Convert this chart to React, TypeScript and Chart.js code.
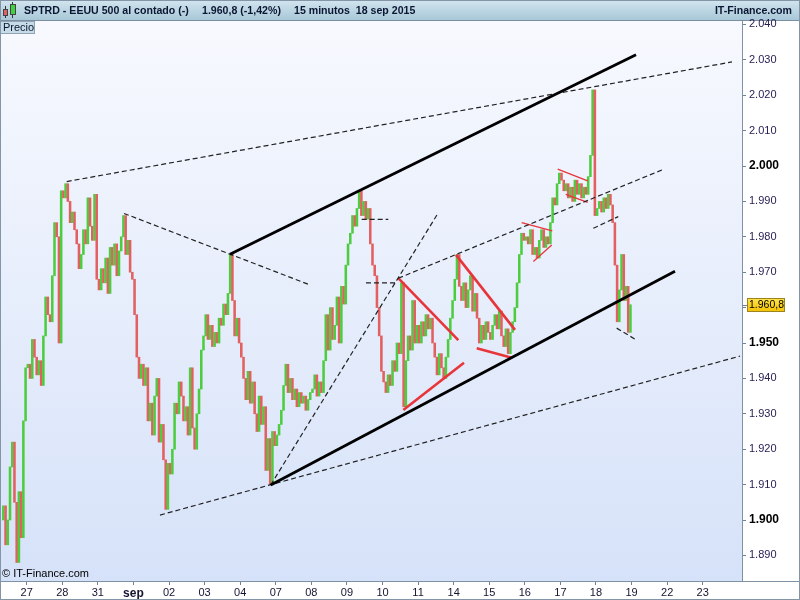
import React, { useEffect, useRef } from 'react';
import { Chart, registerables } from 'chart.js';

Chart.register(...registerables);

// ---- axis labels ----
const dayLabels = ['27', '28', '31', 'sep', '02', '03', '04', '07', '08', '09', '10', '11', '14', '15', '16', '17', '18', '19', '22', '23'];
const priceTicks = [1890, 1900, 1910, 1920, 1930, 1940, 1950, 1960, 1970, 1980, 1990, 2000, 2010, 2020, 2030, 2040];
const boldPriceTicks = [1900, 1950, 2000];

// ---- 15-minute closes, 16 bars per session (first session partial) ----
const barsPerDay = 16;
const firstOpen = 1900;
const aug26 = [1904, 1893, 1900, 1915, 1922, 1905, 1888, 1908, 1895, 1928, 1943];
const aug27 = [1944, 1940, 1951, 1946, 1941, 1945, 1938, 1952, 1963, 1958, 1956, 1969, 1984, 1980, 1950, 1993];
const aug28 = [1991, 1995, 1990, 1984, 1987, 1982, 1978, 1971, 1975, 1982, 1978, 1991, 1983, 1979, 1992, 1968];
const aug31 = [1965, 1971, 1967, 1974, 1964, 1977, 1972, 1978, 1969, 1976, 1980, 1986, 1975, 1979, 1970, 1968];
const sep01 = [1958, 1946, 1940, 1944, 1938, 1943, 1928, 1933, 1924, 1935, 1940, 1922, 1927, 1917, 1903, 1916];
const sep02 = [1913, 1920, 1933, 1930, 1939, 1935, 1928, 1932, 1924, 1943, 1926, 1920, 1930, 1937, 1948, 1952];
const sep03 = [1958, 1951, 1955, 1949, 1953, 1950, 1957, 1955, 1961, 1958, 1964, 1975, 1962, 1952, 1957, 1950];
const sep04 = [1946, 1940, 1934, 1942, 1933, 1939, 1930, 1925, 1935, 1927, 1932, 1914, 1923, 1910, 1925, 1921];
const sep07 = [1924, 1927, 1931, 1938, 1944, 1936, 1940, 1934, 1937, 1932, 1936, 1933, 1935, 1931, 1934, 1936];
const sep08 = [1937, 1941, 1935, 1939, 1936, 1945, 1958, 1948, 1960, 1951, 1955, 1963, 1950, 1966, 1961, 1972];
const sep09 = [1978, 1981, 1986, 1983, 1988, 1993, 1986, 1990, 1985, 1988, 1978, 1972, 1969, 1960, 1952, 1942];
const sep10 = [1939, 1936, 1941, 1938, 1945, 1942, 1950, 1947, 1967, 1932, 1945, 1952, 1948, 1962, 1950, 1955];
const sep11 = [1950, 1956, 1952, 1958, 1954, 1957, 1950, 1946, 1941, 1947, 1943, 1940, 1946, 1951, 1957, 1962];
const sep14 = [1968, 1975, 1966, 1962, 1967, 1960, 1965, 1969, 1959, 1964, 1957, 1950, 1955, 1951, 1956, 1953];
const sep15 = [1951, 1955, 1958, 1954, 1959, 1952, 1949, 1954, 1947, 1953, 1956, 1960, 1967, 1975, 1981, 1979];
const sep16 = [1980, 1978, 1982, 1975, 1977, 1974, 1979, 1982, 1977, 1980, 1978, 1984, 1991, 1989, 1995, 1998];
const sep17 = [1996, 1993, 1995, 1991, 1994, 1990, 1996, 1992, 1995, 1991, 1994, 1992, 1997, 2003, 2021.5, 1986];
const sep18 = [1988, 1990, 1987, 1991, 1988, 1992, 1989, 1984, 1972, 1956, 1965, 1975, 1962, 1966, 1953, 1960.8];
const sessions = [aug26, aug27, aug28, aug31, sep01, sep02, sep03, sep04, sep07, sep08, sep09, sep10, sep11, sep14, sep15, sep16, sep17, sep18];
const sessionDay = [-1, 0, 1, 2, 3, 4, 5, 6, 7, 8, 9, 10, 11, 12, 13, 14, 15, 16];
const lastPrice = 1960.8;

// ---- drawn trend lines: [dayStart, priceStart, dayEnd, priceEnd] ----
const solidBlackLines = [
  [5.714, 1975.1, 17.125, 2031.4],
  [6.858, 1909.9, 18.221, 1970.3],
];
const dashedBlackLines = [
  [1.124, 1995.6, 19.823, 2029.4],
  [2.735, 1986.6, 7.962, 1966.4],
  [3.746, 1901.4, 20.048, 1946.3],
  [6.858, 1909.9, 11.532, 1986.2],
  [10.444, 1968.3, 17.856, 1998.9],
  [9.415, 1984.9, 10.163, 1984.9],
  [9.536, 1967.0, 10.399, 1967.0],
  [15.925, 1982.4, 16.627, 1985.7],
  [16.582, 1954.2, 17.144, 1950.8],
];
const thickRedLines = [
  [10.444, 1968.3, 12.13, 1950.8],
  [10.585, 1931.1, 12.29, 1944.4],
  [12.066, 1974.9, 13.724, 1953.7],
  [12.648, 1948.5, 13.631, 1945.8],
];
const thinRedLines = [
  [13.912, 1984.0, 14.772, 1981.7],
  [14.24, 1973.0, 14.756, 1977.7],
  [14.924, 1999.1, 15.767, 1995.8],
  [15.149, 1992.0, 15.767, 1989.7],
];

const GREEN = '#4ccd3f';
const RED = '#e2605f';
const FONT = '"Liberation Sans", Arial, sans-serif';

function fmtPrice(v: number) {
  const s = Math.round(v).toString();
  return s.slice(0, 1) + '.' + s.slice(1);
}

function buildBars() {
  const data: { x: number; y: [number, number] }[] = [];
  const colors: string[] = [];
  let prev = firstOpen;
  sessions.forEach((closes, si) => {
    const start = barsPerDay - closes.length;
    closes.forEach((c, j) => {
      data.push({ x: sessionDay[si] + (start + j + 0.5) / barsPerDay, y: [prev, c] });
      colors.push(c >= prev ? GREEN : RED);
      prev = c;
    });
  });
  return { data, colors };
}

function lineSet(seg: number[], color: string, width: number, dash: number[]) {
  return {
    type: 'line' as const,
    data: [{ x: seg[0], y: seg[1] }, { x: seg[2], y: seg[3] }],
    borderColor: color,
    borderWidth: width,
    borderDash: dash,
    pointRadius: 0,
    pointHoverRadius: 0,
    fill: false,
    tension: 0,
    order: 0,
  };
}

const decorPlugin = {
  id: 'decor',
  beforeDraw(chart: any) {
    const { ctx, chartArea: a } = chart;
    ctx.save();
    ctx.fillStyle = '#ffffff';
    ctx.fillRect(0, 0, 800, 600);
    const g = ctx.createLinearGradient(0, a.top, 0, a.bottom);
    g.addColorStop(0, '#f7f9fe');
    g.addColorStop(1, '#d6e2f9');
    ctx.fillStyle = g;
    ctx.fillRect(a.left, a.top, a.right - a.left, a.bottom - a.top);

    // header
    const hg = ctx.createLinearGradient(0, 0, 0, 20);
    hg.addColorStop(0, '#d2e5ef');
    hg.addColorStop(1, '#a8c7d7');
    ctx.fillStyle = hg;
    ctx.fillRect(0, 0, 800, 20);
    ctx.fillStyle = '#7a8fa2';
    ctx.fillRect(0, 20, 800, 1);

    // icon
    ctx.fillStyle = '#333';
    ctx.fillRect(5, 6, 1, 12);
    ctx.fillRect(12, 2, 1, 16);
    ctx.fillStyle = RED;
    ctx.fillRect(3, 9, 5, 7);
    ctx.strokeStyle = '#444';
    ctx.lineWidth = 1;
    ctx.strokeRect(3.5, 9.5, 4, 6);
    ctx.fillStyle = '#3fd13f';
    ctx.fillRect(10, 4, 6, 11);
    ctx.strokeRect(10.5, 4.5, 5, 10);

    ctx.fillStyle = '#0b1632';
    ctx.textBaseline = 'middle';
    ctx.font = 'bold 10.6px ' + FONT;
    ctx.textAlign = 'left';
    ctx.fillText('SPTRD - EEUU 500 al contado (-)', 24, 11);
    ctx.fillText('1.960,8 (-1,42%)', 202, 11);
    ctx.fillText('15 minutos  18 sep 2015', 294, 11);
    ctx.textAlign = 'right';
    ctx.fillText('IT-Finance.com', 792, 11);
    ctx.restore();
  },
  beforeDatasetsDraw(chart: any) {
    const { ctx, chartArea: a } = chart;
    ctx.save();
    ctx.fillStyle = '#000';
    ctx.font = '11px ' + FONT;
    ctx.textBaseline = 'middle';
    ctx.textAlign = 'left';
    ctx.fillText('\u00a9 IT-Finance.com', 2, a.bottom - 7);
    ctx.restore();
  },
  afterDraw(chart: any) {
    const { ctx, chartArea: a, scales } = chart;
    ctx.save();
    // axis borders
    ctx.fillStyle = '#7f92a4';
    ctx.fillRect(0, Math.round(a.bottom), 800, 1);
    ctx.fillRect(Math.round(a.right), a.top, 1, a.bottom - a.top);
    // Precio box
    ctx.fillStyle = '#c6dbe8';
    ctx.fillRect(0, 21, 35, 13);
    ctx.strokeStyle = '#8fa3b3';
    ctx.strokeRect(0.5, 21.5, 34, 12);
    ctx.fillStyle = '#0b1632';
    ctx.font = '11px ' + FONT;
    ctx.textBaseline = 'middle';
    ctx.textAlign = 'left';
    ctx.fillText('Precio', 3, 28);
    // last price tag
    const py = Math.round(scales.y.getPixelForValue(lastPrice));
    ctx.fillStyle = '#6f8294';
    ctx.fillRect(Math.round(a.right), py, 5, 1);
    const tg = ctx.createLinearGradient(0, py - 7, 0, py + 7);
    tg.addColorStop(0, '#ffe44d');
    tg.addColorStop(1, '#f4c100');
    ctx.fillStyle = tg;
    ctx.fillRect(747, py - 7, 38, 14);
    ctx.strokeStyle = '#9a8420';
    ctx.strokeRect(747.5, py - 6.5, 37, 13);
    ctx.fillStyle = '#000';
    ctx.font = '10.5px ' + FONT;
    ctx.fillText('1.960,8', 749, py + 0.5);
    // outer frame
    ctx.strokeStyle = '#8395a6';
    ctx.strokeRect(0.5, 0.5, 799, 599);
    ctx.restore();
  },
};

export default function App() {
  const ref = useRef<HTMLCanvasElement>(null);
  useEffect(() => {
    document.body.style.margin = '0';
    const { data: barData, colors } = buildBars();
    const datasets: any[] = [
      {
        type: 'bar',
        data: barData,
        backgroundColor: colors,
        borderWidth: 0,
        barThickness: 1.9,
        minBarLength: 1.5,
        order: 10,
      },
      ...solidBlackLines.map((s) => lineSet(s, '#000000', 2.8, [])),
      ...dashedBlackLines.map((s) => lineSet(s, '#222222', 1.2, [5, 3])),
      ...thickRedLines.map((s) => lineSet(s, '#e8353a', 2.6, [])),
      ...thinRedLines.map((s) => lineSet(s, '#e8353a', 1.3, [])),
    ];
    const chart = new Chart(ref.current as HTMLCanvasElement, {
      type: 'bar',
      data: { datasets },
      options: {
        responsive: false,
        animation: false,
        events: [],
        layout: { padding: { left: 1, top: 21, right: 0, bottom: 0 } },
        plugins: { legend: { display: false }, tooltip: { enabled: false } },
        scales: {
          x: {
            type: 'linear',
            min: -0.7223,
            max: 20.104,
            offset: false,
            afterBuildTicks: (scale: any) => {
              scale.ticks = dayLabels.map((_, i) => ({ value: i }));
            },
            afterFit: (scale: any) => {
              scale.height = 19;
            },
            border: { display: false },
            grid: { drawOnChartArea: false, drawTicks: true, tickLength: 4, color: '#6f8294', offset: false },
            ticks: {
              autoSkip: false,
              maxRotation: 0,
              minRotation: 0,
              padding: 1,
              color: '#141430',
              callback: (v: any) => dayLabels[v] ?? '',
              font: (c: any) =>
                c.tick && dayLabels[c.tick.value] === 'sep'
                  ? { family: FONT, size: 12, weight: 'bold' }
                  : { family: FONT, size: 11, weight: 'normal' },
            },
          },
          y: {
            type: 'linear',
            position: 'right',
            min: 1882.77,
            max: 2040.96,
            afterBuildTicks: (scale: any) => {
              scale.ticks = priceTicks.map((v) => ({ value: v }));
            },
            afterFit: (scale: any) => {
              scale.width = 58;
            },
            border: { display: false },
            grid: { drawOnChartArea: false, drawTicks: true, tickLength: 4, color: '#6f8294' },
            ticks: {
              padding: 3,
              callback: (v: any) => fmtPrice(v),
              color: (c: any) => (c.tick && boldPriceTicks.includes(c.tick.value) ? '#000000' : '#241c52'),
              font: (c: any) =>
                c.tick && boldPriceTicks.includes(c.tick.value)
                  ? { family: FONT, size: 12, weight: 'bold' }
                  : { family: FONT, size: 11, weight: 'normal' },
            },
          },
        },
      },
      plugins: [decorPlugin],
    } as any);
    return () => chart.destroy();
  }, []);
  return <canvas ref={ref} width={800} height={600} style={{ display: 'block', width: 800, height: 600 }} />;
}
